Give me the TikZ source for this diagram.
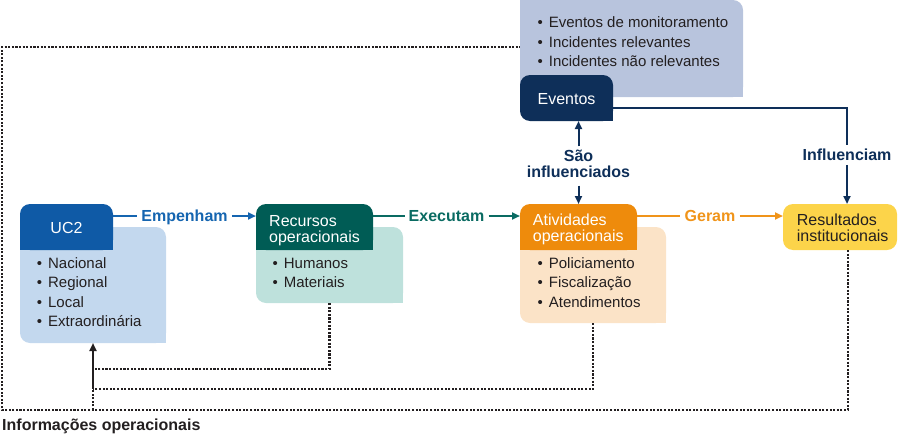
\documentclass[tikz,border=0pt]{standalone}
\usepackage{fontspec}
\setmainfont{Liberation Sans}
\usetikzlibrary{arrows.meta}
\definecolor{ucdark}{HTML}{0F5AA6}
\definecolor{uclight}{HTML}{C3D8EE}
\definecolor{ucline}{HTML}{1565B0}
\definecolor{recdark}{HTML}{005C55}
\definecolor{reclight}{HTML}{BEE1DC}
\definecolor{recline}{HTML}{0A6B62}
\definecolor{atidark}{HTML}{EE8B0C}
\definecolor{atilight}{HTML}{FBE3C7}
\definecolor{atiline}{HTML}{F0941A}
\definecolor{evdark}{HTML}{0E2F59}
\definecolor{evlight}{HTML}{B8C4DD}
\definecolor{resfill}{HTML}{FCD44A}
\definecolor{txt}{HTML}{231F20}
\begin{document}
\begin{tikzpicture}[x=1pt,y=-1pt,
  area/.style={draw=none,inner sep=0pt,outer sep=0pt},
  hdr/.style={inner sep=0pt,font=\fontsize{16}{16.5}\selectfont},
  lst/.style={inner sep=0pt,text=txt,font=\fontsize{15}{19.6}\selectfont},
  lbl/.style={inner xsep=4pt,inner ysep=4pt,font=\bfseries\fontsize{16}{16.5}\selectfont,text height=11.5pt,text depth=0pt},
  tip/.style={-{Triangle[length=8pt,width=7pt]}},
  conn/.style={line width=2pt},
  dotl/.style={draw=txt,line width=2.4pt,dash pattern=on 2.1pt off 1.5pt}]
\useasboundingbox (0,0) rectangle (900,434);

% invisible box nodes
\node[area,minimum width=93,minimum height=46] (uc2d) at (66.5,227) {};
\node[area,minimum width=146,minimum height=116] (uc2l) at (93,285) {};
\node[area,minimum width=117,minimum height=46] (recd) at (314.5,227) {};
\node[area,minimum width=147,minimum height=76] (recl) at (329.5,265) {};
\node[area,minimum width=117,minimum height=46] (atid) at (578.5,227) {};
\node[area,minimum width=146,minimum height=96] (atil) at (593,275) {};
\node[area,minimum width=93,minimum height=46] (evd) at (566.5,98) {};
\node[area,minimum width=223,minimum height=97] (evl) at (631.5,48.5) {};
\node[area,minimum width=114,minimum height=46] (res) at (840,227) {};

% light boxes
\foreach \n/\c in {uc2l/uclight,recl/reclight,atil/atilight,evl/evlight}{
  \fill[\c,rounded corners=10pt] (\n.north west) rectangle (\n.south east);
  \fill[\c] (\n.south east) rectangle ++(-12,-12);
  \fill[\c] (\n.north west) rectangle ++(12,12);
}
% dark boxes
\foreach \n/\c in {uc2d/ucdark,recd/recdark,atid/atidark}{
  \fill[\c,rounded corners=10pt] (\n.north west) rectangle (\n.south east);
  \fill[\c] (\n.south east) rectangle ++(-12,-12);
  \fill[\c] (\n.south west) rectangle ++(12,-12);
}
\fill[evdark,rounded corners=10pt] (evd.north west) rectangle (evd.south east);
\fill[evdark] (evd.south east) rectangle ++(-12,-12);
\fill[resfill,rounded corners=10pt] (res.north west) rectangle (res.south east);

% header texts
\node[hdr,text=white,anchor=base] (uc2t) at (66.5,233) {UC2};
\node[hdr,text=white,anchor=base west] (rect) at (269,226) {\begin{tabular}[t]{@{}l@{}}Recursos\\operacionais\end{tabular}};
\node[hdr,text=white,anchor=base west] (atit) at (532.7,225) {\begin{tabular}[t]{@{}l@{}}Atividades\\operacionais\end{tabular}};
\node[hdr,text=txt,anchor=base west] (rest) at (796.7,225) {\begin{tabular}[t]{@{}l@{}}Resultados\\institucionais\end{tabular}};
\node[hdr,text=white,anchor=base] (evt) at (566.5,104) {Eventos};

% lists
\node[lst,anchor=base west] (uc2i) at (36.7,268) {\begin{tabular}[t]{@{}l@{}}\textbullet\hspace{6pt}Nacional\\\textbullet\hspace{6pt}Regional\\\textbullet\hspace{6pt}Local\\\textbullet\hspace{6pt}Extraordinária\end{tabular}};
\node[lst,anchor=base west] (reci) at (272.4,268) {\begin{tabular}[t]{@{}l@{}}\textbullet\hspace{6pt}Humanos\\\textbullet\hspace{6pt}Materiais\end{tabular}};
\node[lst,anchor=base west] (atii) at (537.4,268) {\begin{tabular}[t]{@{}l@{}}\textbullet\hspace{6pt}Policiamento\\\textbullet\hspace{6pt}Fiscalização\\\textbullet\hspace{6pt}Atendimentos\end{tabular}};
\node[lst,anchor=base west] (evi) at (537.4,27.5) {\begin{tabular}[t]{@{}l@{}}\textbullet\hspace{6pt}Eventos de monitoramento\\\textbullet\hspace{6pt}Incidentes relevantes\\\textbullet\hspace{6pt}Incidentes não relevantes\end{tabular}};

% connector labels
\node[lbl,text=ucline] (emp) at (184.5,216) {Empenham};
\node[lbl,text=recline] (exe) at (446.5,216) {Executam};
\node[lbl,text=atiline] (ger) at (710,216) {Geram};
\node[lbl,text=evdark] (inf) at (847,155) {Influenciam};
\node[inner sep=3pt,text=evdark,font=\bfseries\fontsize{16}{16.5}\selectfont,anchor=base] (sao) at (578.5,161) {\begin{tabular}[t]{@{}c@{}}São\\influenciados\end{tabular}};

% solid connectors
\draw[conn,ucline] (uc2d.east |- emp) -- (emp.west);
\draw[conn,ucline,tip] (emp.east) -- (recd.west |- emp);
\draw[conn,recline] (recd.east |- exe) -- (exe.west);
\draw[conn,recline,tip] (exe.east) -- (atid.west |- exe);
\draw[conn,atiline] (atid.east |- ger) -- (ger.west);
\draw[conn,atiline,tip] (ger.east) -- (res.west |- ger);
\draw[conn,evdark,tip] (sao.north) -- (evd.south -| sao.north);
\draw[conn,evdark,tip] (sao.south) -- (atid.north -| sao.south);
\draw[conn,evdark] ([yshift=-10pt]evd.east) -| (inf.north);
\draw[conn,evdark,tip] (inf.south) -- (res.north -| inf.south);

% dotted feedback
\coordinate (p1) at (93,369);
\coordinate (p2) at (93,389);
\coordinate (p3) at (93,410);
\coordinate (q1) at (2,410);
\coordinate (q2) at (2,47);
\draw[dotl] (recl.south) |- (p1);
\draw[dotl] (atil.south) |- (p2);
\draw[dotl] ([xshift=8pt]res.south) |- (q1) -- (q2) -- (evl.west |- q2);
\draw[dotl] (p3) -- (p2);
\draw[conn,txt,tip] (p2) -- (uc2l.south);

\node[anchor=base west,inner sep=0pt,text=txt,font=\bfseries\fontsize{16}{16.5}\selectfont] (info) at (2,430) {Informações operacionais};
\end{tikzpicture}
\end{document}
